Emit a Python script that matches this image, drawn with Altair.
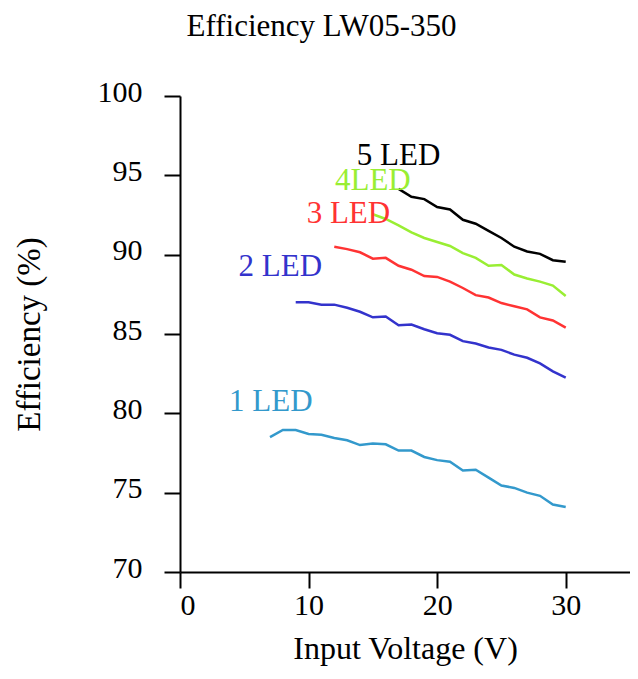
import altair as alt
import pandas as pd

# ---- data ----
series_names = ["1 LED", "2 LED", "3 LED", "4LED", "5 LED"]
series_colors = ["#3399cc", "#3333cc", "#ff3333", "#99ee33", "#000000"]

volts_1 = list(range(7, 31))
eff_1 = [78.5, 78.95, 78.95, 78.7, 78.65, 78.45, 78.3, 78.0, 78.1, 78.05, 77.65, 77.65,
         77.25, 77.05, 76.95, 76.4, 76.45, 75.95, 75.45, 75.3, 75.0, 74.8, 74.25, 74.1]

volts_2 = list(range(9, 31))
eff_2 = [87.0, 87.0, 86.85, 86.85, 86.65, 86.4, 86.05, 86.1, 85.55, 85.6, 85.3, 85.05,
         84.95, 84.55, 84.4, 84.15, 84.0, 83.7, 83.5, 83.15, 82.65, 82.25]

volts_3 = list(range(12, 31))
eff_3 = [90.5, 90.35, 90.15, 89.75, 89.8, 89.3, 89.05, 88.65, 88.6, 88.3, 87.9, 87.45,
         87.3, 86.95, 86.75, 86.55, 86.05, 85.85, 85.4]

volts_4 = list(range(15, 31))
eff_4 = [92.55, 92.25, 91.85, 91.4, 91.05, 90.8, 90.55, 90.1, 89.8, 89.3, 89.35, 88.75,
         88.5, 88.3, 88.05, 87.4]

volts_5 = list(range(17, 31))
eff_5 = [94.15, 93.65, 93.5, 93.0, 92.85, 92.2, 91.95, 91.5, 91.05, 90.5, 90.2, 90.05,
         89.65, 89.55]

label_x = [7.06, 7.8, 13.1, 15.0, 17.0]
label_y = [80.7, 89.25, 92.55, 94.65, 96.25]

x_ticks = [0, 10, 20, 30]
y_ticks = [70, 75, 80, 85, 90, 95, 100]

# ---- tables ----
rows = []
for name, vs, es in zip(series_names,
                        [volts_1, volts_2, volts_3, volts_4, volts_5],
                        [eff_1, eff_2, eff_3, eff_4, eff_5]):
    for v, e in zip(vs, es):
        rows.append({"series": name, "volt": v, "eff": e})
df = pd.DataFrame(rows)

lab_df = pd.DataFrame({"series": series_names, "x": label_x, "y": label_y})

FONT = "Liberation Serif"
color_scale = alt.Scale(domain=series_names, range=series_colors)
x_scale = alt.Scale(domain=[0, 35], nice=False, zero=False)
y_scale = alt.Scale(domain=[70, 100], nice=False, zero=False)

lines = alt.Chart(df).mark_line(strokeWidth=2.5).encode(
    x=alt.X("volt:Q", scale=x_scale,
            axis=alt.Axis(values=x_ticks, title="Input Voltage (V)", titlePadding=13,
                          labelPadding=2)),
    y=alt.Y("eff:Q", scale=y_scale,
            axis=alt.Axis(values=y_ticks, title="Efficiency (%)", titlePadding=51,
                          labelPadding=22, labelOffset=-4, titleFontSize=33)),
    color=alt.Color("series:N", scale=color_scale, legend=None),
    order="volt:Q",
)

labels = alt.Chart(lab_df).mark_text(font=FONT, fontSize=31, baseline="middle",
                                     align="center").encode(
    x=alt.X("x:Q", scale=x_scale),
    y=alt.Y("y:Q", scale=y_scale),
    color=alt.Color("series:N", scale=color_scale, legend=None),
    text="series:N",
)

chart = alt.layer(lines, labels).properties(
    width=450,
    height=476,
    padding={"left": 172, "top": 88, "right": 0, "bottom": 94},
    autosize=alt.AutoSizeParams(type="none"),
    title=alt.TitleParams("Efficiency LW05-350", font=FONT, fontSize=31,
                          fontWeight="normal", color="black", anchor="middle",
                          frame="bounds", offset=34),
).configure_view(stroke=None).configure_axis(
    grid=False,
    domainColor="black",
    domainWidth=2,
    tickColor="black",
    tickWidth=2,
    tickSize=16,
    labelFont=FONT,
    labelFontSize=30,
    labelColor="black",
    titleFont=FONT,
    titleFontSize=32,
    titleFontWeight="normal",
    titleColor="black",
)

chart.save("out.html", embed_options={"renderer": "svg", "actions": False})
